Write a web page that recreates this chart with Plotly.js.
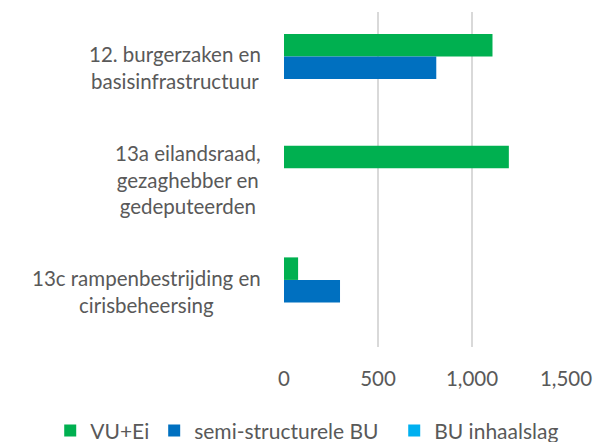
<!DOCTYPE html>
<html>
<head>
<meta charset="utf-8">
<script src="https://cdn.plot.ly/plotly-3.0.1.min.js"></script>
<style>html,body{margin:0;padding:0;background:#fff;}#chart{width:596px;height:442px;}</style>
</head>
<body>
<div id="chart"></div>
<script>
const categories = ["12. burgerzaken en<br>basisinfrastructuur", "13a eilandsraad,<br>gezaghebber en<br>gedeputeerden", "13c rampenbestrijding en<br>cirisbeheersing"];
const categoryKeys = ["cat12", "cat13a", "cat13c"];
const seriesNames = ["VU+Ei", "semi-structurele BU", "BU inhaalslag"];
const vuEi = [1109, 1196, 75];
const semiStructBU = [810, 0, 298];
const buInhaalslag = [0, 0, 0];
const xTickVals = [0, 500, 1000, 1500];
const xTickText = ["0", "500", "1,000", "1,500"];

const colors = ["#00B050", "#0070C0", "#00B0F0"];
const FONT = "Lato, 'Open Sans', sans-serif";
const TXT = "#595959";
const FS = 20.5;
const LEGEND_PAD = ["", "\u00A0\u00A0", ""];

const allSeries = [vuEi, semiStructBU, buInhaalslag];
const traces = allSeries.map((vals, i) => ({
  type: "bar",
  orientation: "h",
  name: seriesNames[i] + LEGEND_PAD[i],
  x: vals,
  y: categoryKeys,
  marker: {color: colors[i], line: {width: 0}},
  hoverinfo: "none"
}));

const annotations = categoryKeys.map((k, i) => ({
  xref: "paper", yref: "y",
  x: 0, y: i,
  xanchor: "right", yanchor: "middle",
  xshift: -21,
  align: "center",
  showarrow: false,
  text: categories[i],
  font: {family: FONT, size: FS, color: TXT}
}));

const layout = {
  width: 596, height: 442,
  margin: {l: 284, r: 30, t: 12, b: 95, autoexpand: false},
  paper_bgcolor: "#ffffff",
  plot_bgcolor: "#ffffff",
  barmode: "group",
  bargap: 0.395,
  bargroupgap: 0,
  font: {family: FONT, size: FS, color: TXT},
  showlegend: true,
  legend: {
    orientation: "h",
    x: -0.829, xanchor: "left",
    y: -0.25, yanchor: "middle",
    font: {family: FONT, size: 21, color: TXT},
    traceorder: "normal",
    itemclick: false
  },
  xaxis: {
    range: [0, 1500],
    tickvals: xTickVals,
    ticktext: xTickText,
    showgrid: true,
    gridcolor: "#D9D9D9",
    gridwidth: 1.3,
    zeroline: false,
    showline: false,
    ticks: "",
    ticklabelstandoff: 17,
    tickfont: {family: FONT, size: FS, color: TXT}
  },
  yaxis: {
    type: "category",
    categoryarray: categoryKeys,
    autorange: "reversed",
    showticklabels: false,
    showgrid: false,
    zeroline: false,
    showline: false,
    ticks: ""
  },
  annotations: annotations
};

Plotly.newPlot("chart", traces, layout, {staticPlot: true, displayModeBar: false});
</script>
</body>
</html>
